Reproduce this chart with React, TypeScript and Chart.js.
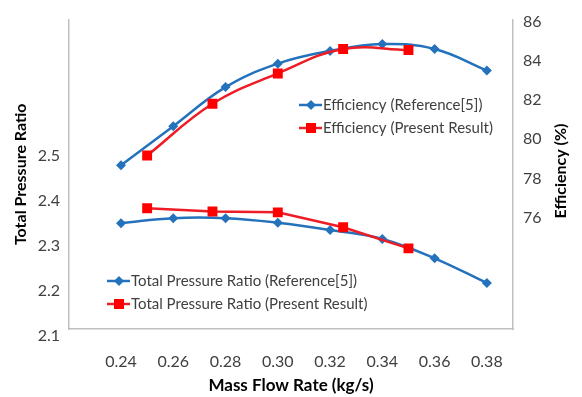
import React, { useEffect, useRef } from "react";
import { Chart, registerables } from "chart.js";

Chart.register(...registerables);

const refFlow = [0.24, 0.26, 0.28, 0.3, 0.32, 0.34, 0.36, 0.38];
const presentFlow = [0.25, 0.275, 0.3, 0.325, 0.35];
const effReference = [78.67, 80.67, 82.67, 83.87, 84.52, 84.87, 84.62, 83.52];
const effPresent = [79.17, 81.82, 83.37, 84.62, 84.57];
const tprReference = [2.35, 2.361, 2.361, 2.351, 2.335, 2.315, 2.272, 2.217];
const tprPresent = [2.383, 2.376, 2.374, 2.341, 2.294];

const xTicks = [0.24, 0.26, 0.28, 0.3, 0.32, 0.34, 0.36, 0.38];
const leftTicks = [2.1, 2.2, 2.3, 2.4, 2.5];
const rightTicks = [76, 78, 80, 82, 84, 86];

const BLUE = "#2472BC";
const RED = "#EE1C24";
const RED_MARK = "#FF0000";
const AXIS = "#BFBFBF";
const FONT = "Lato, 'Open Sans', sans-serif";

const pts = (xs: number[], ys: number[]) => xs.map((x, i) => ({ x, y: ys[i] }));

function drawMarker(ctx: CanvasRenderingContext2D, kind: string, x: number, y: number, color: string) {
  ctx.fillStyle = color;
  ctx.beginPath();
  if (kind === "diamond") {
    ctx.moveTo(x - 5, y);
    ctx.lineTo(x, y - 5);
    ctx.lineTo(x + 5, y);
    ctx.lineTo(x, y + 5);
    ctx.closePath();
  } else {
    ctx.rect(x - 5, y - 5, 10, 10);
  }
  ctx.fill();
}

const overlayPlugin = {
  id: "overlay",
  afterDraw(chart: any) {
    const ctx: CanvasRenderingContext2D = chart.ctx;
    const legends = [
      { x: 299, y: 105, color: BLUE, line: BLUE, kind: "diamond", text: "Efficiency (Reference[5])" },
      { x: 299, y: 128, color: RED_MARK, line: RED, kind: "square", text: "Efficiency (Present Result)" },
      { x: 107, y: 281, color: BLUE, line: BLUE, kind: "diamond", text: "Total Pressure Ratio (Reference[5])" },
      { x: 107, y: 304, color: RED_MARK, line: RED, kind: "square", text: "Total Pressure Ratio (Present Result)" },
    ];
    ctx.save();
    for (const l of legends) {
      ctx.strokeStyle = l.line;
      ctx.lineWidth = 2.5;
      ctx.beginPath();
      ctx.moveTo(l.x, l.y);
      ctx.lineTo(l.x + 23, l.y);
      ctx.stroke();
      drawMarker(ctx, l.kind, l.x + 12, l.y, l.color);
      ctx.fillStyle = "#404040";
      ctx.font = `15px ${FONT}`;
      ctx.textAlign = "left";
      ctx.textBaseline = "middle";
      ctx.fillText(l.text, l.x + 24, l.y);
    }
    ctx.translate(561, 171);
    ctx.rotate(-Math.PI / 2);
    ctx.fillStyle = "#000000";
    ctx.font = `bold 16px ${FONT}`;
    ctx.textAlign = "center";
    ctx.textBaseline = "middle";
    ctx.fillText("Efficiency (%)", 0, 0);
    ctx.restore();
  },
};

export default function App() {
  const canvasRef = useRef<HTMLCanvasElement | null>(null);

  useEffect(() => {
    if (!canvasRef.current) return;
    Chart.defaults.font.family = FONT;
    const chart = new Chart(canvasRef.current, {
      type: "line",
      data: {
        datasets: [
          {
            label: "Efficiency (Present Result)",
            data: pts(presentFlow, effPresent),
            yAxisID: "y1",
            borderColor: RED,
            backgroundColor: RED_MARK,
            borderWidth: 2.5,
            pointStyle: "rect",
            pointRadius: 7,
            pointBorderWidth: 0,
            tension: 0.4,
          },
          {
            label: "Total Pressure Ratio (Present Result)",
            data: pts(presentFlow, tprPresent),
            yAxisID: "y",
            borderColor: RED,
            backgroundColor: RED_MARK,
            borderWidth: 2.5,
            pointStyle: "rect",
            pointRadius: 7,
            pointBorderWidth: 0,
            tension: 0,
          },
          {
            label: "Efficiency (Reference[5])",
            data: pts(refFlow, effReference),
            yAxisID: "y1",
            borderColor: BLUE,
            backgroundColor: BLUE,
            borderWidth: 2.5,
            pointStyle: "rectRot",
            pointRadius: 5,
            pointBorderWidth: 0,
            tension: 0.4,
          },
          {
            label: "Total Pressure Ratio (Reference[5])",
            data: pts(refFlow, tprReference),
            yAxisID: "y",
            borderColor: BLUE,
            backgroundColor: BLUE,
            borderWidth: 2.5,
            pointStyle: "rectRot",
            pointRadius: 5,
            pointBorderWidth: 0,
            tension: 0.4,
          },
        ],
      },
      options: {
        responsive: false,
        animation: false,
        layout: { padding: { top: 13, left: 0, right: 0, bottom: 0 } },
        plugins: { legend: { display: false }, tooltip: { enabled: false } },
        scales: {
          x: {
            type: "linear",
            position: "bottom",
            min: 0.2201,
            max: 0.39,
            grid: { display: false, drawTicks: false },
            border: { display: true, color: AXIS, width: 1.5 },
            afterBuildTicks: (s: any) => {
              s.ticks = xTicks.map((v) => ({ value: v }));
            },
            afterFit: (s: any) => {
              s.height = 68;
            },
            ticks: {
              color: "#404040",
              font: { size: 16 },
              padding: 23,
              maxRotation: 0,
              autoSkip: false,
              callback: (v: any) => Number(v).toFixed(2),
            },
            title: {
              display: true,
              text: "Mass Flow Rate (kg/s)",
              color: "#000000",
              font: { size: 17, weight: "bold" },
              padding: { top: 0, bottom: 1 },
            },
          },
          y: {
            type: "linear",
            position: "left",
            min: 2.115,
            max: 2.802,
            grid: { display: false, drawTicks: false },
            border: { display: true, color: AXIS, width: 1.5 },
            afterBuildTicks: (s: any) => {
              s.ticks = leftTicks.map((v) => ({ value: v }));
            },
            afterFit: (s: any) => {
              s.width = 69;
            },
            ticks: {
              color: "#404040",
              font: { size: 16 },
              padding: 9,
              autoSkip: false,
              callback: (v: any) => Number(v).toFixed(1),
            },
            title: {
              display: true,
              text: "Total Pressure Ratio",
              color: "#000000",
              font: { size: 16, weight: "bold" },
              padding: { top: 11, bottom: 0 },
            },
          },
          y1: {
            type: "linear",
            position: "right",
            min: 70.29,
            max: 86.125,
            grid: { display: false, drawTicks: false },
            border: { display: true, color: AXIS, width: 1.5 },
            afterBuildTicks: (s: any) => {
              s.ticks = rightTicks.map((v) => ({ value: v }));
            },
            afterFit: (s: any) => {
              s.width = 69;
            },
            ticks: {
              color: "#404040",
              font: { size: 16 },
              padding: 10,
              autoSkip: false,
              callback: (v: any) => String(v),
            },
          },
        },
      } as any,
      plugins: [overlayPlugin],
    });
    return () => chart.destroy();
  }, []);

  return (
    <div style={{ position: "fixed", left: 0, top: 0, width: 582, height: 397, background: "#ffffff" }}>
      <canvas ref={canvasRef} width={582} height={397} style={{ width: 582, height: 397, display: "block" }} />
    </div>
  );
}
